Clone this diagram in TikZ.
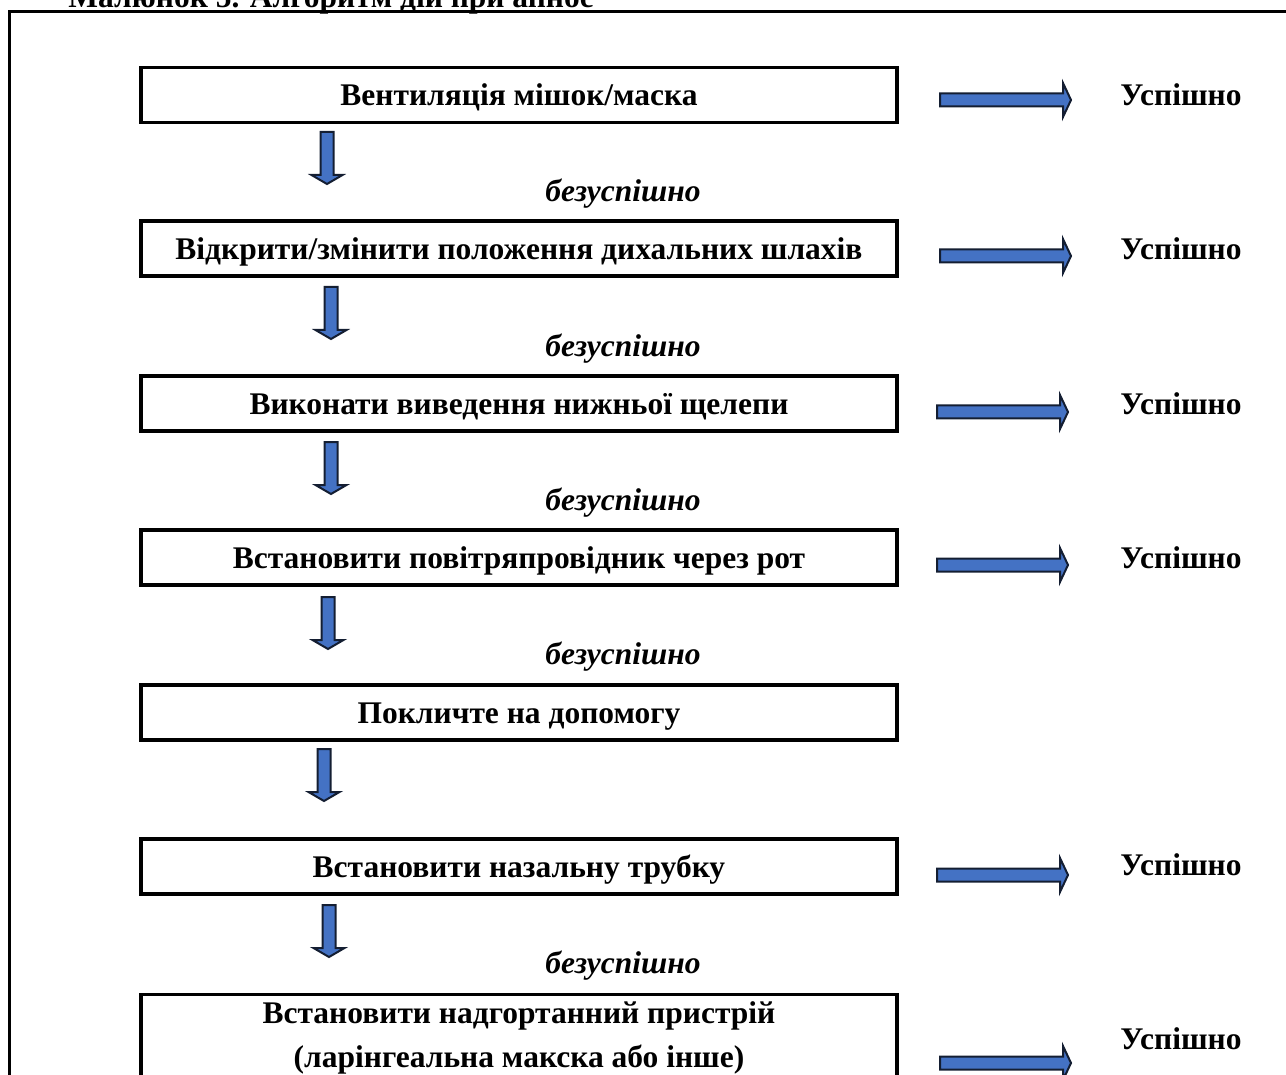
\documentclass[tikz,border=0pt]{standalone}
\usepackage{fontspec}
\setmainfont{Liberation Serif}
\definecolor{arrowblue}{RGB}{68,114,196}
\definecolor{arrowedge}{RGB}{20,30,50}
\tikzset{
  downblock/.pic={
    \path[blockarrow] (-6.5,0) -- (6.5,0) -- (6.5,43) -- (15.5,43) -- (0,52) -- (-15.5,43) -- (-6.5,43) -- cycle;
  },
  rightblock/.pic={
    \path[blockarrow] (0,-6.5) -- (123,-6.5) -- (123,-17) -- (131,0) -- (123,17) -- (123,6.5) -- (0,6.5) -- cycle;
  }
}
\begin{document}
\begin{tikzpicture}[x=0.5pt,y=-0.5pt,
  boxbase/.style={draw,line width=1.65pt,minimum width=378pt,minimum height=27.5pt,inner sep=0pt,
    font=\bfseries\fontsize{15.75}{22}\selectfont,align=center},
  stepbox/.style={boxbase,text height=10.6pt,text depth=0pt},
  lbl/.style={font=\bfseries\fontsize{15.75}{22}\selectfont,inner sep=0pt},
  fail/.style={font=\bfseries\itshape\fontsize{15.75}{22}\selectfont,inner sep=0pt},
  blockarrow/.style={fill=arrowblue,draw=arrowedge,line width=1pt,line join=miter}]
\clip (0,0) rectangle (1286,1075);
% title (cut off at top, as in the reference)
\node[lbl,anchor=base west] (title) at (68,8) {Малюнок 5. Алгоритм дій при апное};
% outer frame
\draw[line width=1.75pt] (9.5,11.5) rectangle (1330,1130);
% boxes
\node[stepbox] (b1) at (519,95) {Вентиляція мішок/маска};
\node[stepbox] (b2) at (519,248.5) {Відкрити/змінити положення дихальних шлахів};
\node[stepbox] (b3) at (519,403.5) {Виконати виведення нижньої щелепи};
\node[stepbox] (b4) at (519,557.5) {Встановити повітряпровідник через рот};
\node[stepbox] (b5) at (519,712.5) {Покличте на допомогу};
\node[stepbox] (b6) at (519,866.5) {Встановити назальну трубку};
\node[boxbase,minimum height=43.5pt] (b7) at (519,1038) {Встановити надгортанний пристрій\\(ларінгеальна макска або інше)};
% failure labels
\node[fail] (f1) at (623,194) {безуспішно};
\node[fail] (f2) at (623,349) {безуспішно};
\node[fail] (f3) at (623,503) {безуспішно};
\node[fail] (f4) at (623,657) {безуспішно};
\node[fail] (f6) at (623,966) {безуспішно};
% success labels
\node[lbl] (s1) at (1181,95) {Успішно};
\node[lbl] (s2) at (1181,249) {Успішно};
\node[lbl] (s3) at (1181,404) {Успішно};
\node[lbl] (s4) at (1181,558) {Успішно};
\node[lbl] (s6) at (1181,865) {Успішно};
\node[lbl] (s7) at (1181,1039) {Успішно};
% down block arrows
\pic at (327,132) {downblock};
\pic at (331,287) {downblock};
\pic at (331,442) {downblock};
\pic at (328,597) {downblock};
\pic at (324,749) {downblock};
\pic at (329,905) {downblock};
% right block arrows
\pic at (940,100) {rightblock};
\pic at (940,256) {rightblock};
\pic at (937,412) {rightblock};
\pic at (937,565) {rightblock};
\pic at (937,875) {rightblock};
\pic at (940,1063) {rightblock};
\end{tikzpicture}
\end{document}
